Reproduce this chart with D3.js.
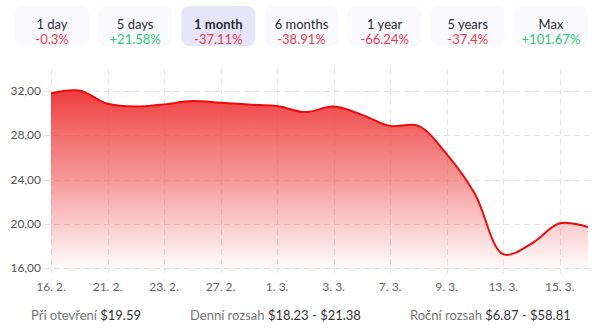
<!DOCTYPE html>
<html><head><meta charset="utf-8">
<script src="https://cdn.jsdelivr.net/npm/d3@7"></script>
<style>
html,body{margin:0;padding:0;background:#fff;}
svg{display:block;font-family:Lato,"Noto Sans",sans-serif;}
</style></head>
<body>
<svg id="c" width="600" height="333"></svg>
<script>
// Period buttons
const periodLabels = ["1 day","5 days","1 month","6 months","1 year","5 years","Max"];
const periodChanges = ["-0.3%","+21.58%","-37.11%","-38.91%","-66.24%","-37.4%","+101.67%"];
const activePeriod = "1 month";

// Price series (index-based trading days)
const xLabels = ["16. 2.","21. 2.","23. 2.","27. 2.","1. 3.","3. 3.","7. 3.","9. 3.","13. 3.","15. 3."];
const prices = [31.8,32.05,30.85,30.6,30.8,31.1,30.95,30.78,30.65,30.1,30.6,29.85,28.85,28.85,26.3,22.7,17.25,18.2,20.05,19.7];
const yTicks = [16,20,24,28,32];

// Footer stats
const statLabels = ["Při otevření","Denní rozsah","Roční rozsah"];
const statValues = ["$19.59","$18.23 - $21.38","$6.87 - $58.81"];
const statX = [31,190,410];

const svg = d3.select("#c");

// Buttons
const bx = d3.scaleBand().domain(periodLabels).range([15, 15 + 82*7]).paddingInner(8/82).paddingOuter(0);
const btn = svg.append("g").selectAll("g").data(periodLabels).join("g")
  .attr("transform", d => `translate(${bx(d)},6)`);
btn.append("rect").attr("width", 74).attr("height", 40).attr("rx", 8)
  .attr("fill", d => d === activePeriod ? "#e7e5fa" : "#faf9fe");
btn.append("text").attr("x", 37).attr("y", 23).attr("text-anchor","middle")
  .attr("font-size", 13).attr("fill", "#2b2b33")
  .attr("font-weight", d => d === activePeriod ? "bold" : "normal")
  .text(d => d);
btn.append("text").attr("x", 37).attr("y", 38).attr("text-anchor","middle")
  .attr("font-size", 13)
  .attr("fill", (d,i) => periodChanges[i].startsWith("+") ? "#2ecc71" : "#f03a47")
  .text((d,i) => periodChanges[i]);

// Scales
const x = d3.scaleLinear().domain([0, prices.length - 1]).range([51, 588]);
const y = d3.scaleLinear().domain([16, 34]).range([268, 69]);

// Gridlines
const grid = svg.append("g").attr("stroke", "#e3e3e3").attr("stroke-dasharray", "6,4").attr("stroke-width", 1);
grid.selectAll("line.h").data(yTicks).join("line")
  .attr("x1", 44).attr("x2", 590)
  .attr("y1", d => Math.round(y(d)) + 0.5).attr("y2", d => Math.round(y(d)) + 0.5);
grid.selectAll("line.v").data(xLabels).join("line")
  .attr("x1", (d,i) => Math.round(x(i*2)) + 0.5).attr("x2", (d,i) => Math.round(x(i*2)) + 0.5)
  .attr("y1", 69).attr("y2", 273);

// Gradient
const defs = svg.append("defs");
const grad = defs.append("linearGradient").attr("id","g").attr("gradientUnits","userSpaceOnUse")
  .attr("x1",0).attr("x2",0).attr("y1", y(d3.max(prices))).attr("y2", y(16));
grad.append("stop").attr("offset","0").attr("stop-color","#ee3333").attr("stop-opacity",0.95);
grad.append("stop").attr("offset","0.5").attr("stop-color","#f06060").attr("stop-opacity",0.65);
grad.append("stop").attr("offset","1").attr("stop-color","#f26a6a").attr("stop-opacity",0.03);

const curve = d3.curveCatmullRom.alpha(0.5);
const area = d3.area().x((d,i) => x(i)).y0(y(16)).y1(d => y(d)).curve(curve);
const line = d3.line().x((d,i) => x(i)).y(d => y(d)).curve(curve);

svg.append("path").datum(prices).attr("d", area).attr("fill","url(#g)");
svg.append("path").datum(prices).attr("d", line).attr("fill","none")
  .attr("stroke","#ee0a0a").attr("stroke-width",2);

// Y axis labels
const fmt = d => d3.format(".2f")(d).replace(".", ",");
svg.append("g").selectAll("text").data(yTicks).join("text")
  .attr("x", 41).attr("y", d => y(d) + 4).attr("text-anchor","end")
  .attr("font-size", 12).attr("fill","#555").text(fmt);

// X axis labels
svg.append("g").selectAll("text").data(xLabels).join("text")
  .attr("x", (d,i) => x(i*2)).attr("y", 291).attr("text-anchor","middle")
  .attr("font-size", 12).attr("fill","#666").text(d => d);

// Footer
const ft = svg.append("g").selectAll("text").data(statLabels).join("text")
  .attr("x", (d,i) => statX[i]).attr("y", 320).attr("font-size", 13);
ft.append("tspan").attr("fill","#777").text(d => d + " ");
ft.append("tspan").attr("fill","#333").text((d,i) => statValues[i]);
</script>
</body></html>
